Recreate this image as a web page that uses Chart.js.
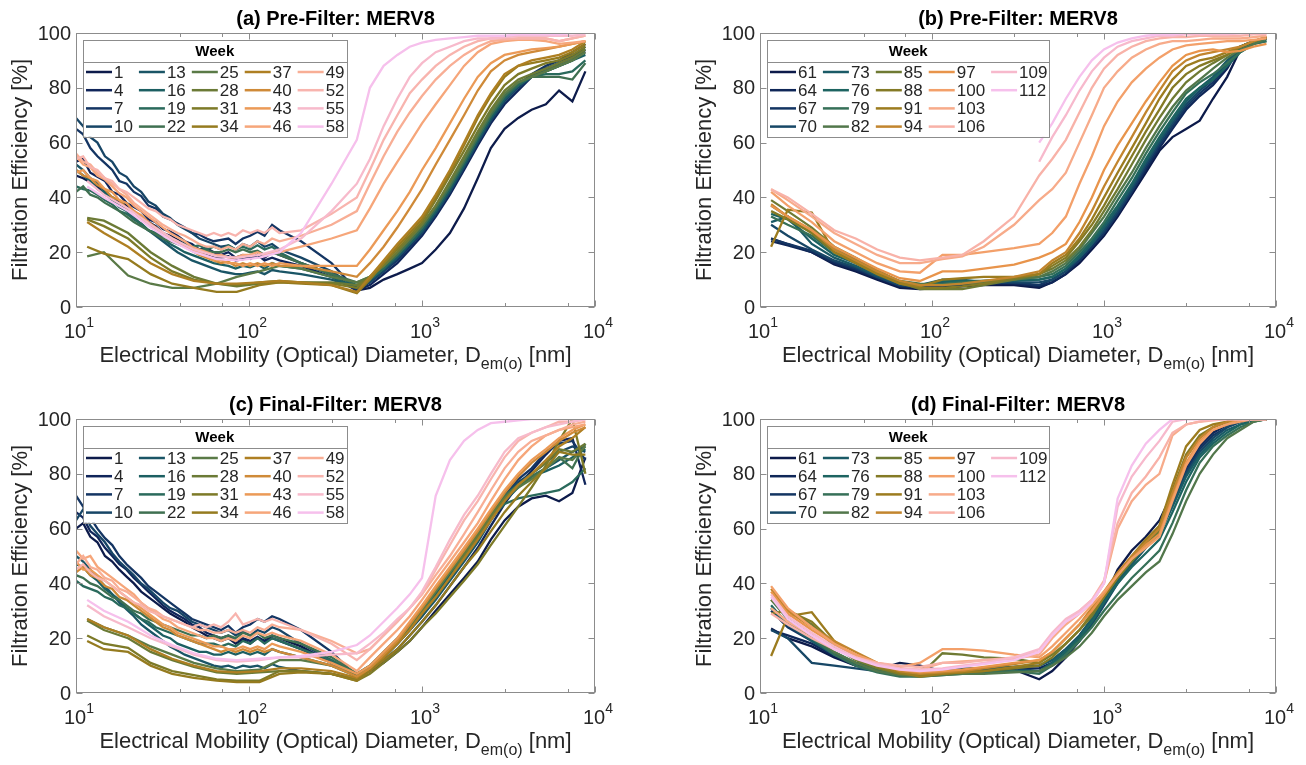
<!DOCTYPE html>
<html>
<head>
<meta charset="utf-8">
<script src="https://cdn.jsdelivr.net/npm/chart.js@4.4.1/dist/chart.umd.min.js"></script>
<style>
  body { margin: 0; background: #fff; }
  #wrap { position: relative; width: 1306px; height: 765px; }
  canvas { position: absolute; }
</style>
</head>
<body>
<div id="wrap">
  <canvas id="pa" width="653" height="382" style="left:0;top:0"></canvas>
  <canvas id="pb" width="653" height="382" style="left:653px;top:0"></canvas>
  <canvas id="pc" width="653" height="383" style="left:0;top:382px"></canvas>
  <canvas id="pd" width="653" height="383" style="left:653px;top:382px"></canvas>
</div>
<script>
// size grids (nm)
const denseX = [10, 11, 12.1, 13.3, 14.7, 16.2, 17.8, 19.6, 21.6, 23.8, 26.2, 28.9, 31.8, 35, 38.6,
  42.5, 46.8, 51.6, 56.8, 62.6, 69, 76, 83.7, 92.2, 101.6, 112, 123, 136, 150, 200, 300, 420];
const sparseX = [11.6, 14.5, 20, 27, 36, 48, 65, 85, 115, 150, 200, 300, 420];
const opcX = [500, 600, 720, 850, 1000, 1200, 1450, 1750, 2100, 2500, 3000, 3600, 4300, 5200, 6200, 7400, 8800];

const weeksAC = [1, 4, 7, 10, 13, 16, 19, 22, 25, 28, 31, 34, 37, 40, 43, 46, 49, 52, 55, 58];
const weeksBD = [61, 64, 67, 70, 73, 76, 79, 82, 85, 88, 91, 94, 97, 100, 103, 106, 109, 112];

const coloursAC = ['#0d1b4b', '#10255a', '#143563', '#174566', '#1a5566', '#1c5f62', '#2a6a5c', '#3f7051',
  '#5a7a47', '#6b7a36', '#7d7a28', '#957b1f', '#ae7f22', '#cf8a38', '#eb9a57', '#f6a67a',
  '#f8ae95', '#f8b4ae', '#f7bacb', '#f6c0ec'];
const coloursBD = ['#0c1a4a', '#0f2758', '#133562', '#174766', '#1a5a66', '#1d6461', '#367058', '#52774b',
  '#6f7a33', '#847a25', '#9c7c1f', '#c2852e', '#e8944b', '#f3a06a', '#f7ab8a', '#f8b2a8',
  '#f7b9cc', '#f6c0ec'];

const titles = ['(a) Pre-Filter: MERV8', '(b) Pre-Filter: MERV8', '(c) Final-Filter: MERV8', '(d) Final-Filter: MERV8'];

// (a) pre-filter, weeks 1-58 : SMPS part (dense or sparse grid), then OPC part
const smpsA = [
  [48, 47, 45.5, 44, 41, 40, 38.5, 37, 35, 32.5, 31, 29.5, 27, 26, 24.5, 23, 21.5, 20, 19.5, 18.5, 18, 18.5, 17, 17.5, 18, 19, 18, 20, 19, 16, 12, 6],
  [53, 54, 49, 47.5, 46, 42, 41, 38, 36.5, 35, 32, 31, 28.5, 27.5, 26, 24, 23, 21, 21.5, 20, 19, 20, 18, 19, 17.5, 19, 17, 18, 17, 15, 11, 6],
  [65, 63, 58, 55, 52.5, 50, 46, 45, 42, 40.5, 37, 36, 33, 32, 30.5, 29, 27, 26.5, 25, 24, 24.5, 25, 23, 25, 26, 27.5, 26, 30, 28, 24, 16, 6],
  [69, 66, 62, 60, 55, 53, 49, 47.5, 44, 42, 38.5, 37, 34, 32.5, 30, 28.5, 27, 25, 24, 23, 22, 22.5, 21, 23, 22, 24, 22, 23, 21, 18, 13, 7],
  [52, 50, 47, 45.5, 42, 40, 37, 35.5, 33, 30, 28, 26, 24, 22, 20, 18.5, 17, 16, 15, 14, 13, 12.5, 12, 12, 12.5, 13, 12, 13.5, 13, 12, 10, 7],
  [50, 48, 46, 43, 41.5, 39, 36.5, 35, 32, 30.5, 28, 27, 25, 23, 21.5, 20, 19, 18, 17, 16, 15.5, 15, 14, 15, 14.5, 15.5, 14, 16, 15, 14, 11, 7],
  [44, 43, 42.5, 41, 39, 37.5, 35, 34, 32, 30.5, 28, 27, 26, 25, 24, 23, 22, 22.5, 21, 22, 21, 22.5, 21, 22, 21, 22.5, 21, 22, 20, 16, 12, 8],
  [42, 44, 41, 40, 38, 36.5, 35, 33, 31, 29.5, 28, 26.5, 25, 24, 23, 22, 21.5, 21, 20.5, 20, 20, 21, 20, 21, 20, 20.5, 19, 20, 19, 16, 12, 9],
  [18.5, 20, 11.5, 8.5, 7, 7, 8.5, 11, 13, 15, 14, 11, 9],
  [32.5, 31.5, 27, 20, 15, 11, 8.5, 7.5, 8.5, 9, 9, 9, 8],
  [32, 29.5, 25, 18, 13, 10, 8.5, 8, 9, 9.5, 9, 8.5, 7],
  [22, 19.5, 17.5, 12, 8.5, 7, 5.5, 5.5, 8, 9, 8.5, 8, 5],
  [31, 27, 22, 16, 12, 9.5, 8.5, 8.5, 9, 9.5, 9, 8, 5.5],
  [50, 48, 47, 44.5, 43, 40, 39, 36, 35, 32, 30.5, 28, 27, 25, 23.5, 22, 20.5, 19, 18, 17, 16, 16.5, 15, 16, 15, 16, 15, 16, 15, 15, 13, 11],
  [49, 50, 47, 46, 43, 42, 39, 38, 35, 33.5, 31, 29, 27, 25.5, 24, 22, 21, 20, 18.5, 17, 17, 16, 16, 15, 16, 15, 16, 15, 16, 15, 15, 15],
  [55, 52, 51, 48, 46.5, 44, 41.5, 40, 37, 35, 33, 31, 29, 27, 25.5, 24, 22, 21, 20, 19, 19, 18, 18, 19, 19, 20, 19, 20, 20, 22, 25, 28],
  [56, 53, 52, 49, 47, 45, 43, 41, 38, 36, 34, 32, 30, 28.5, 27, 26, 24.5, 23, 22, 22, 21, 22, 21, 23, 22, 24, 23, 25, 24, 26, 30, 35],
  [54, 55, 51, 50, 47, 46, 43, 42, 40, 38, 36, 35, 33, 32, 30, 29, 28, 27, 26, 27, 26, 27, 26, 28, 27, 28, 27, 29, 27, 28, 34, 40],
  [46, 41, 36, 30, 25, 21, 18.5, 18, 19, 21, 25, 35, 45],
  [44, 40, 35, 29, 24, 20, 17.5, 17, 18, 20, 27, 45, 61]
];
const opcA = [
  [7, 10, 12, 14, 16, 21, 27, 36, 47, 58, 65, 69, 72, 74, 79, 75, 86],
  [8, 12, 16, 21, 26, 33, 41, 50, 59, 67, 74, 79, 84, 87, 89, 92, 93],
  [9, 13, 17, 22, 27, 34, 42, 51, 60, 68, 76, 81, 85, 88, 90, 93, 96],
  [9, 13, 18, 23, 27, 34, 42, 51, 60, 68, 75, 80, 84, 87, 89, 91, 95],
  [10, 14, 18, 23, 28, 35, 43, 52, 61, 69, 76, 81, 84, 86, 88, 90, 94],
  [10, 14, 19, 23, 28, 35, 43, 52, 61, 69, 76, 81, 84, 86, 88, 90, 92],
  [10, 14, 19, 24, 29, 36, 44, 53, 62, 70, 77, 81, 84, 85, 85, 86, 90],
  [11, 15, 19, 24, 29, 36, 44, 53, 62, 70, 77, 82, 84, 84, 84, 83, 89],
  [11, 15, 20, 25, 30, 37, 45, 54, 63, 71, 78, 82, 84, 86, 88, 90, 93],
  [11, 15, 20, 25, 30, 37, 46, 55, 64, 72, 79, 83, 85, 87, 89, 91, 94],
  [11, 16, 21, 26, 31, 39, 48, 57, 66, 74, 81, 85, 87, 89, 90, 92, 95],
  [10, 16, 22, 27, 32, 40, 49, 59, 69, 77, 84, 88, 89, 90, 91, 93, 96],
  [11, 17, 23, 28, 33, 41, 50, 60, 70, 78, 85, 88, 90, 91, 92, 94, 97],
  [16, 22, 29, 36, 43, 52, 61, 70, 79, 86, 90, 92, 93, 94, 95, 96, 97],
  [21, 28, 35, 42, 50, 58, 67, 76, 84, 89, 92, 93, 94, 94.5, 95, 96, 97],
  [36, 45, 53, 60, 67, 74, 81, 88, 93, 96, 97, 97.5, 97.5, 97, 96, 96.5, 97],
  [45, 55, 64, 71, 77, 83, 88, 92, 95, 97, 97.5, 98, 98, 98, 97, 98, 99],
  [50, 61, 70, 78, 83, 88, 92, 95, 97, 98, 98, 98, 98, 98, 97, 98, 99],
  [54, 66, 76, 84, 89, 93, 95, 97, 98, 98, 98.5, 99, 99, 99, 99, 99, 99.5],
  [80, 88, 92, 95, 96.5, 97.5, 98, 98.5, 99, 99, 99, 99.5, 99.5, 99.5, 99.5, 100, 100]
];

// (b) pre-filter, weeks 61-112
const smpsB = [
  [25, 23, 20, 15.5, 13, 10, 7, 6.5, 7, 7.5, 8, 8, 7],
  [24, 22.5, 20, 16, 13.5, 10.5, 7.5, 7, 7.5, 8, 8.5, 8.5, 7.5],
  [25, 23, 20.5, 16.5, 14, 11, 8, 7, 8, 8, 8.5, 9, 8],
  [30, 26, 21, 17, 14.5, 11, 8, 7.5, 9, 9.5, 9, 9, 9],
  [31, 33, 23, 18, 15, 11.5, 8.5, 8, 10, 10, 9, 9.5, 10],
  [34, 32, 25, 19, 16, 12, 9, 8, 9.5, 9.5, 9.5, 10, 10],
  [33, 30, 26, 20, 17, 12.5, 9, 8, 8.5, 9, 9.5, 10, 11],
  [37, 33, 27, 21, 17.5, 13, 9.5, 8.5, 8, 8.5, 9, 10, 11],
  [39, 35, 29, 22, 18, 13.5, 9, 6.5, 6.5, 6.5, 8, 10, 12],
  [35, 32, 27, 20, 16.5, 12.5, 8.5, 7, 7, 7.5, 8.5, 10.5, 12],
  [22, 35.5, 34.5, 20, 16, 12, 8.5, 7.5, 10, 10.5, 11, 11, 12],
  [37.5, 33, 28, 21, 17, 13, 9.5, 8, 8, 8.5, 9.5, 11, 13],
  [37, 33, 28, 22, 18, 14, 10.5, 9.5, 13, 13, 14, 15.5, 18],
  [42, 37, 31, 24, 20, 16, 13, 12.5, 19, 19, 20, 21.5, 23],
  [43, 39, 33, 27, 23, 19, 16, 16, 17.5, 18.5, 22, 30, 39],
  [43, 40, 34, 28, 25, 21, 18, 17, 18, 19, 24, 33, 48],
  [null, null, null, null, null, null, null, null, null, null, null, null, 53],
  [null, null, null, null, null, null, null, null, null, null, null, null, 60]
];
const opcB = [
  [9, 12, 16, 21, 26, 33, 41, 49, 57, 62, 65, 68, 76, 84, 94, 97, 98],
  [9, 12, 17, 22, 27, 34, 42, 50, 58, 65, 72, 77, 81, 87, 95, 97, 98],
  [10, 13, 17, 22, 27, 34, 42, 51, 59, 66, 73, 78, 82, 88, 95, 97, 98],
  [10, 13, 18, 23, 28, 35, 43, 52, 60, 67, 74, 79, 83, 89, 95, 97, 98],
  [11, 14, 18, 23, 29, 36, 44, 53, 61, 68, 75, 80, 84, 90, 94, 97, 98],
  [11, 14, 19, 24, 30, 37, 45, 54, 62, 69, 76, 80, 83, 88, 93, 96, 97],
  [12, 15, 20, 25, 31, 39, 47, 56, 64, 71, 78, 82, 85, 89, 93, 96, 97],
  [13, 16, 21, 27, 33, 41, 49, 58, 66, 73, 79, 83, 87, 91, 94, 96, 98],
  [14, 17, 22, 28, 35, 43, 52, 61, 69, 76, 82, 86, 89, 92, 95, 97, 98.5],
  [15, 18, 24, 30, 37, 46, 55, 64, 72, 80, 85, 88, 90, 92, 95, 97, 98.5],
  [16, 19, 25, 32, 40, 49, 58, 67, 76, 83, 88, 90, 91, 93, 95, 97, 98.5],
  [17, 20, 27, 35, 44, 53, 62, 71, 79, 86, 90, 92, 93, 94, 95, 97, 98.5],
  [20, 23, 31, 40, 50, 59, 67, 75, 82, 88, 92, 93.5, 94, 93, 93.5, 95, 96],
  [27, 33, 45, 55, 66, 75, 82, 87, 91, 94, 95.5, 96, 96.5, 97, 97, 97.5, 98],
  [43, 49, 60, 70, 80, 86, 91, 94, 96, 97, 97, 97.5, 98, 98, 98, 98.5, 99],
  [54, 61, 71, 80, 87, 92, 95, 97, 98, 98.5, 98.5, 99, 99, 99, 99, 99.5, 99.5],
  [62, 70, 79, 86, 91, 95, 97, 98, 99, 99, 99.5, 99.5, 99.5, 99.5, 100, 100, 100],
  [67, 76, 84, 90, 94, 96.5, 98, 99, 99.5, 99.5, 100, 100, 100, 100, 100, 100, 100]
];

// (c) final-filter, weeks 1-58
const smpsC = [
  [60, 62, 57, 55, 50, 48, 45, 42.5, 40, 37, 35, 33, 31, 29, 27.5, 26, 24, 22.5, 21, 20, 19, 20, 18, 19.5, 18, 20, 19, 21, 20, 17, 11, 6],
  [66, 64, 59, 57, 53, 50, 47, 45, 42, 39.5, 37, 34.5, 32, 30, 28.5, 27, 25, 24, 22, 21, 20, 21, 19, 20, 19, 20.5, 19, 20, 19, 16, 11, 6],
  [72, 68, 64, 60, 56.5, 54, 50, 47, 44.5, 42, 39, 37, 35, 33, 31, 29, 27, 26, 25, 24, 23, 24.5, 22, 24, 25, 27, 26, 28, 27, 23, 15, 6],
  [63, 67, 61, 58, 55, 51, 48, 45.5, 43, 40, 38, 35.5, 33, 31, 30, 28, 26, 25, 24, 23, 22, 23, 21, 22.5, 21, 23, 22, 24, 23, 18, 12, 6],
  [50, 48, 45, 42, 39, 36, 33, 30.5, 28, 25, 23, 21, 19, 17, 15.5, 14, 13, 12, 11, 10, 9.5, 10, 9, 10, 9.5, 10, 9, 10.5, 9.5, 8, 7, 5],
  [47, 46, 43, 41, 38, 36, 34, 31, 29, 27, 25, 23, 21, 20, 18, 17, 16, 15, 15, 14, 14, 15, 14, 15, 14, 15, 14, 16, 15, 13, 10, 6],
  [41, 39, 38, 37, 35, 34, 32, 31, 29, 27, 26, 24, 23, 22, 21, 20, 19, 18, 18, 18, 17, 18, 17, 19, 18, 20, 18, 20, 19, 16, 12, 7],
  [43, 42, 40, 39, 37, 35, 34, 32, 30, 29, 27, 26, 25, 24, 23, 22, 21, 21, 20, 21, 20, 21, 20, 22, 21, 22, 20, 21, 20, 18, 13, 7],
  [27, 24, 21, 17, 14, 11, 9, 8, 8.5, 12, 12, 10, 7],
  [26.5, 23, 20, 15, 12, 9.5, 7.5, 7, 7.5, 8, 8, 7, 5],
  [21, 18, 16.5, 11, 8, 6.5, 5, 4.5, 4.5, 8, 8, 7, 4.5],
  [19, 16, 15, 10, 7, 5.5, 4.5, 4, 4, 7, 7.5, 7, 4.5],
  [27, 24, 21, 16, 12.5, 10, 8, 7.5, 8, 9, 9, 8, 5.5],
  [44, 46, 43, 42, 39, 38, 35, 34, 32, 30, 28, 26, 24, 23, 21, 20, 19, 18, 17, 16, 15, 16, 15, 16, 15, 16, 15, 16, 15, 13, 10, 6],
  [48, 45, 45, 43, 41, 39, 37, 35, 33, 31, 29, 27, 25, 24, 22, 21, 20, 19, 18, 17, 17, 16, 16, 17, 16, 17, 16, 18, 17, 15, 11, 7],
  [52, 49, 50, 46, 44, 42, 40, 38, 36, 33, 31, 29, 27, 26, 24, 23, 22, 21, 20, 20, 19, 20, 19, 21, 20, 22, 21, 22, 21, 19, 14, 8],
  [47, 50, 46, 45, 42, 41, 38, 37, 35, 33, 31, 30, 28, 27, 26, 25, 24, 23, 23, 22, 22, 23, 22, 23, 22, 24, 23, 25, 24, 23, 19, 14.5],
  [45, 47, 44, 42, 41, 39, 37, 35, 33, 32, 30, 29, 28, 27, 26, 25, 24, 25, 24, 25, 24, 26, 29, 25, 26, 27, 26, 27, 26, 23, 18, 12],
  [32, 28, 24, 20, 17, 14, 12, 11.5, 12, 13, 13, 14, 14.5],
  [34, 30, 26, 21, 17.5, 14.5, 12.5, 12, 12.5, 13, 13.5, 15, 17.5]
];
const opcC = [
  [8, 11, 15, 19, 24, 30, 36, 42, 48, 56, 63, 68, 71, 72, 70, 73, 86],
  [8, 12, 16, 21, 26, 32, 39, 46, 53, 61, 69, 76, 81, 87, 92, 93, 76],
  [9, 13, 18, 23, 28, 35, 42, 49, 57, 65, 72, 78, 82, 88, 91, 92, 85],
  [9, 13, 18, 23, 29, 35, 42, 50, 57, 65, 72, 77, 80, 84, 88, 90, 88],
  [9, 13, 18, 23, 28, 34, 41, 48, 55, 63, 70, 75, 79, 82, 85, 88, 90],
  [9, 14, 19, 24, 30, 36, 43, 50, 57, 64, 71, 76, 79, 81, 83, 86, 89],
  [10, 14, 19, 24, 30, 37, 44, 51, 58, 64, 69, 71, 72, 73, 74, 77, 82],
  [10, 15, 20, 25, 31, 38, 45, 52, 59, 66, 72, 76, 79, 82, 86, 82, 91],
  [9, 14, 19, 24, 30, 37, 44, 51, 58, 65, 71, 75, 78, 82, 86, 85, 90],
  [9, 13, 18, 23, 29, 35, 42, 50, 57, 64, 71, 76, 80, 84, 89, 88, 91],
  [7, 11, 15, 19, 24, 29, 35, 41, 47, 54, 61, 68, 75, 83, 92, 100, 80],
  [8, 12, 16, 21, 26, 32, 39, 46, 52, 59, 66, 72, 77, 82, 88, 87, 87],
  [9, 13, 18, 23, 29, 35, 42, 49, 56, 63, 70, 76, 80, 85, 90, 93, 97],
  [9, 14, 19, 25, 31, 38, 45, 52, 59, 66, 73, 79, 84, 88, 92, 95, 97],
  [10, 15, 20, 26, 32, 39, 46, 53, 60, 67, 74, 80, 85, 89, 93, 96, 98],
  [13, 18, 23, 28, 34, 41, 48, 55, 62, 70, 78, 85, 90, 94, 96, 97, 98],
  [16, 21, 26, 31, 36, 43, 50, 58, 66, 74, 82, 88, 92, 94, 96, 98, 99],
  [16, 21, 26, 31, 36, 45, 54, 63, 70, 78, 86, 92, 95, 97, 99, 99, 100],
  [18, 22, 27, 31, 37, 46, 56, 65, 72, 80, 88, 93, 95, 97, 98, 99, 100],
  [21, 26, 31, 36, 42, 72, 85, 92, 96, 98.5, 99, 99.5, 100, 100, 100, 100, 100]
];

// (d) final-filter, weeks 61-112
const smpsD = [
  [23.5, 20, 17, 13, 10, 8.5, 11, 10, 8, 8, 8, 8.5, 5],
  [23, 21, 18, 13.5, 10, 8, 7, 7, 7.5, 8, 8.5, 9, 9],
  [30, 24, 19, 14, 11, 9, 7.5, 7, 8, 8.5, 9, 9.5, 10],
  [23, 20, 11, 10, 9, 8, 7.5, 7, 8, 8, 8.5, 9, 8],
  [31, 25, 19, 14, 11, 9, 7.5, 7.5, 8.5, 9, 9, 9.5, 10],
  [32, 25, 20, 15, 11, 8.5, 7, 6.5, 7, 7, 7.5, 8, 8],
  [31, 26, 20, 14, 10, 7.5, 6, 6, 6.5, 7, 7.5, 8, 7],
  [34, 27, 21, 15, 11, 8, 6.5, 6, 6.5, 7, 7, 7.5, 8],
  [34, 30.5, 25, 17, 12, 9, 7, 6.5, 14.5, 14, 13, 12.5, 11],
  [29, 30, 26, 18, 13, 9.5, 7, 6.5, 7, 7.5, 8, 9, 10],
  [13.5, 28, 29.5, 19, 13, 10, 7.5, 6, 7, 7.5, 8, 9.5, 11],
  [38, 30, 24, 19, 15, 11, 8, 7, 7.5, 8, 9, 10.5, 12],
  [37, 29, 23, 18, 14, 11, 8.5, 7.5, 8, 8.5, 9.5, 11, 12],
  [39, 31, 24, 18, 14, 11, 9.5, 11, 16, 16, 15.5, 14, 13],
  [31, 26, 21, 16, 13, 10.5, 9, 8.5, 11, 11.5, 12, 12.5, 14],
  [29, 25, 20, 16, 13, 11, 10, 9.5, 11, 11, 12, 13, 15],
  [36, 28, 22, 17, 13, 10.5, 9, 8.5, 9, 10, 11, 13, 16],
  [35, 27, 21, 16, 12.5, 10, 8.5, 8, 8.5, 9.5, 10.5, 12, 15]
];
const opcD = [
  [8, 13, 19, 26, 34, 45, 52, 57, 63, 73, 83, 91, 95, 98, 99, 100, 100],
  [11, 15, 20, 26, 33, 42, 49, 55, 60, 71, 82, 90, 95, 98, 99, 100, 100],
  [12, 16, 21, 27, 34, 42, 48, 54, 59, 70, 81, 89, 94, 97, 99, 100, 100],
  [10, 14, 19, 25, 32, 40, 47, 53, 58, 69, 80, 88, 93, 97, 99, 100, 100],
  [12, 16, 21, 27, 34, 41, 47, 53, 58, 68, 79, 87, 92, 96, 98, 99.5, 100],
  [11, 15, 20, 26, 33, 40, 46, 51, 56, 66, 77, 86, 91, 95, 98, 99, 100],
  [10, 14, 19, 24, 30, 36, 42, 47, 52, 62, 74, 84, 90, 94, 97, 99, 100],
  [10, 13, 17, 22, 28, 34, 39, 44, 48, 58, 70, 80, 87, 93, 96, 99, 100],
  [14, 18, 23, 28, 35, 42, 48, 54, 59, 72, 86, 93, 97, 99, 100, 100, 100],
  [13, 18, 23, 29, 35, 42, 49, 55, 61, 74, 87, 94, 97, 99, 100, 100, 100],
  [15, 20, 25, 30, 36, 43, 50, 56, 61, 76, 90, 96, 98, 99, 100, 100, 100],
  [15, 20, 25, 31, 37, 44, 50, 55, 60, 73, 86, 93, 97, 99, 100, 100, 100],
  [15, 20, 25, 30, 36, 43, 49, 54, 58, 71, 84, 92, 96, 98, 100, 100, 100],
  [17, 22, 27, 32, 37, 43, 49, 53, 57, 70, 83, 91, 96, 98, 99, 100, 100],
  [20, 25, 29, 33, 40, 60, 70, 76, 80, 94, 98, 99, 100, 100, 100, 100, 100],
  [21, 26, 30, 34, 41, 62, 73, 79, 86, 95, 98, 99, 99.5, 100, 100, 100, 100],
  [22, 27, 30, 34, 40, 68, 79, 86, 92, 99, 100, 100, 100, 100, 100, 100, 100],
  [21, 26, 29, 33, 40, 71, 83, 91, 96, 100, 100, 100, 100, 100, 100, 100, 100]
];

const fontFam = '"Liberation Sans", Arial, Helvetica, sans-serif';
const textCol = '#262626';
const frameCol = '#8c8c8c';

function toPoints(smps, opc) {
  const xs = smps.length === sparseX.length ? sparseX : denseX;
  const pts = smps.map((v, i) => ({ x: xs[i], y: v }));
  return pts.concat(opc.map((v, i) => ({ x: opcX[i], y: v })));
}

function drawLegend(ctx, chart, a) {
  const sets = chart.data.datasets;
  const rows = 4, lineLen = 26, rowH = 18.2;
  const bx = a.left + 7, by = a.top + 7, headH = 22;
  ctx.font = `17px ${fontFam}`;
  const cols = [];
  for (let c = 0; c * rows < sets.length; c++) {
    const items = sets.slice(c * rows, c * rows + rows);
    const tw = Math.max(...items.map(s => ctx.measureText(s.label).width));
    cols.push({ items, tw });
  }
  let w = 3;
  cols.forEach((c, i) => { w += lineLen + 2 + c.tw + (i < cols.length - 1 ? 6 : 2); });
  const h = headH + rows * rowH + 2;
  ctx.fillStyle = '#fff';
  ctx.fillRect(bx, by, w, h);
  ctx.strokeStyle = frameCol; ctx.lineWidth = 1;
  ctx.strokeRect(Math.round(bx) + 0.5, Math.round(by) + 0.5, Math.round(w), Math.round(h));
  ctx.beginPath();
  ctx.moveTo(Math.round(bx), Math.round(by + headH) + 0.5);
  ctx.lineTo(Math.round(bx + w), Math.round(by + headH) + 0.5);
  ctx.stroke();
  ctx.fillStyle = '#000';
  ctx.font = `bold 15px ${fontFam}`;
  ctx.textAlign = 'center'; ctx.textBaseline = 'middle';
  ctx.fillText('Week', bx + w / 2, by + headH / 2 + 1);
  ctx.textAlign = 'left';
  ctx.font = `17px ${fontFam}`;
  let cx = bx + 3;
  cols.forEach(c => {
    c.items.forEach((s, r) => {
      const cy = by + headH + 10 + r * rowH;
      ctx.strokeStyle = s.borderColor; ctx.lineWidth = 2.5;
      ctx.beginPath(); ctx.moveTo(cx, cy); ctx.lineTo(cx + lineLen, cy); ctx.stroke();
      ctx.fillStyle = textCol;
      ctx.fillText(s.label, cx + lineLen + 2, cy + 1);
    });
    cx += lineLen + 2 + c.tw + 6;
  });
}

const panelDecor = {
  id: 'panelDecor',
  afterDatasetsDraw(chart, args, opts) {
    const { ctx, chartArea: a, scales: { x, y } } = chart;
    ctx.save();
    drawLegend(ctx, chart, a);

    // axes box and inward ticks
    ctx.strokeStyle = frameCol; ctx.lineWidth = 1;
    const L = Math.round(a.left) + 0.5, T = Math.round(a.top) + 0.5;
    const R = Math.round(a.right) - 0.5, B = Math.round(a.bottom) - 0.5;
    ctx.strokeRect(L, T, R - L, B - T);
    ctx.beginPath();
    x.ticks.forEach(t => {
      const px = Math.round(x.getPixelForValue(t.value)) + 0.5;
      const major = Math.abs(Math.log10(t.value) - Math.round(Math.log10(t.value))) < 1e-6;
      const len = major ? 6 : 3.5;
      ctx.moveTo(px, B); ctx.lineTo(px, B - len);
      ctx.moveTo(px, T); ctx.lineTo(px, T + len);
    });
    y.ticks.forEach(t => {
      const py = Math.round(y.getPixelForValue(t.value)) + 0.5;
      ctx.moveTo(L, py); ctx.lineTo(L + 6, py);
      ctx.moveTo(R, py); ctx.lineTo(R - 6, py);
    });
    ctx.stroke();

    ctx.fillStyle = textCol;
    // y tick labels
    ctx.font = `20px ${fontFam}`;
    ctx.textAlign = 'right'; ctx.textBaseline = 'middle';
    y.ticks.forEach(t => ctx.fillText(String(t.value), a.left - 5, y.getPixelForValue(t.value) + 1));

    // x tick labels: 10 with superscript exponent
    x.ticks.forEach(t => {
      const e = Math.round(Math.log10(t.value));
      if (Math.abs(Math.log10(t.value) - e) > 1e-6) return;
      const px = x.getPixelForValue(t.value);
      ctx.font = `20px ${fontFam}`;
      const w1 = ctx.measureText('10').width;
      ctx.font = `14px ${fontFam}`;
      const w2 = ctx.measureText(String(e)).width;
      const sx = px - (w1 + w2) / 2 + 3;
      ctx.textAlign = 'left'; ctx.textBaseline = 'alphabetic';
      ctx.font = `20px ${fontFam}`;
      ctx.fillText('10', sx, a.bottom + 31);
      ctx.font = `14px ${fontFam}`;
      ctx.fillText(String(e), sx + w1, a.bottom + 20);
    });

    // x axis title with subscript
    const mid = (a.left + a.right) / 2;
    const t1 = 'Electrical Mobility (Optical) Diameter, D', t2 = 'em(o)', t3 = ' [nm]';
    ctx.font = `22px ${fontFam}`;
    const w1 = ctx.measureText(t1).width, w3 = ctx.measureText(t3).width;
    ctx.font = `16px ${fontFam}`;
    const w2 = ctx.measureText(t2).width;
    const sx = mid - (w1 + w2 + w3) / 2;
    const base = a.bottom + 55;
    ctx.textAlign = 'left'; ctx.textBaseline = 'alphabetic';
    ctx.font = `22px ${fontFam}`; ctx.fillText(t1, sx, base);
    ctx.font = `16px ${fontFam}`; ctx.fillText(t2, sx + w1, base + 7);
    ctx.font = `22px ${fontFam}`; ctx.fillText(t3, sx + w1 + w2, base);

    // y axis title
    ctx.save();
    ctx.translate(a.left - 55, (a.top + a.bottom) / 2);
    ctx.rotate(-Math.PI / 2);
    ctx.textAlign = 'center'; ctx.textBaseline = 'middle';
    ctx.font = `22px ${fontFam}`;
    ctx.fillText('Filtration Efficiency [%]', 0, 0);
    ctx.restore();

    // panel title
    ctx.fillStyle = '#000';
    ctx.font = `bold 20px ${fontFam}`;
    ctx.textAlign = 'center'; ctx.textBaseline = 'middle';
    ctx.fillText(opts.title, mid, a.top - 14);
    ctx.restore();
  }
};

function makePanel(id, smps, opc, weeks, colours, title, pad) {
  const datasets = weeks.map((wk, i) => ({
    label: String(wk),
    data: toPoints(smps[i], opc[i]),
    borderColor: colours[i],
    borderWidth: 2.3,
    pointRadius: 0,
    tension: 0,
    fill: false,
    spanGaps: false,
    order: -i
  }));
  return new Chart(document.getElementById(id), {
    type: 'line',
    data: { datasets },
    options: {
      responsive: false,
      animation: false,
      events: [],
      layout: { padding: pad },
      scales: {
        x: { type: 'logarithmic', min: 10, max: 10000, display: false },
        y: { type: 'linear', min: 0, max: 100, display: false, ticks: { stepSize: 20 } }
      },
      plugins: {
        legend: { display: false },
        title: { display: false },
        tooltip: { enabled: false },
        panelDecor: { title }
      }
    },
    plugins: [panelDecor]
  });
}

makePanel('pa', smpsA, opcA, weeksAC, coloursAC, titles[0], { left: 76, right: 58, top: 33, bottom: 75 });
makePanel('pb', smpsB, opcB, weeksBD, coloursBD, titles[1], { left: 107, right: 30, top: 33, bottom: 75 });
makePanel('pc', smpsC, opcC, weeksAC, coloursAC, titles[2], { left: 76, right: 58, top: 37, bottom: 72 });
makePanel('pd', smpsD, opcD, weeksBD, coloursBD, titles[3], { left: 107, right: 30, top: 37, bottom: 72 });
</script>
</body>
</html>
